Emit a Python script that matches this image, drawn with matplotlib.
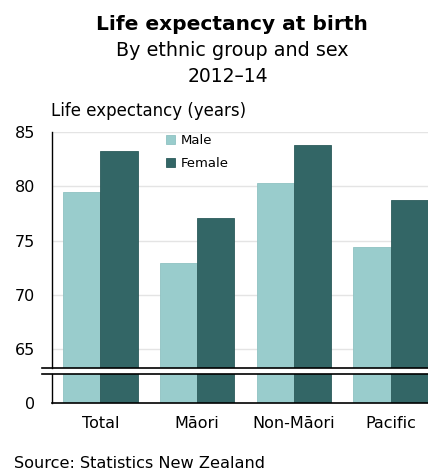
import matplotlib
matplotlib.use("Agg")
from matplotlib import pyplot as plt
from matplotlib.lines import Line2D
import numpy as np

groups = ["Total", "Māori", "Non-Māori", "Pacific"]
male = [79.5, 72.9, 80.3, 74.4]
female = [83.2, 77.1, 83.8, 78.7]
yticks_top = [65, 70, 75, 80, 85]

light = "#99cccc"
dark = "#336666"

plt.rcParams['font.family'] = ['DejaVu Sans']

W, H = 428, 473
fig = plt.figure(figsize=(W / 100, H / 100), dpi=100)

def fx(px):
    return px / W

def fy(py):
    return 1 - py / H

left, right = 52, 439
break_top, break_bot, base = 367.5, 373.7, 402.5
y85 = 131.7
px_per_year = 10.88

ax = fig.add_axes([fx(left), fy(break_top), fx(right - left), (break_top - y85) / H])
axb = fig.add_axes([fx(left), fy(base), fx(right - left), (base - break_bot) / H])

x = np.arange(len(groups))
w = 0.386
for a in (ax, axb):
    a.bar(x - w / 2, male, w, color=light, edgecolor="#8fc2c2", linewidth=0.6, label="Male", zorder=2)
    a.bar(x + w / 2, female, w, color=dark, edgecolor="#2c5b5b", linewidth=0.6, label="Female", zorder=2)
    a.set_xlim(-0.5, 3.5)
    for s in ("top", "right"):
        a.spines[s].set_visible(False)
    a.spines["left"].set_linewidth(1.0)
    a.tick_params(axis="both", length=0, labelsize=11.5, pad=12)

ax.set_ylim(85 - (break_top - y85) / px_per_year, 85)
ax.set_yticks(yticks_top)
ax.set_xticks([])
ax.spines["bottom"].set_visible(False)
ax.grid(axis="y", color="#e4e4e4", linewidth=1, zorder=0)
ax.set_axisbelow(True)

axb.set_ylim(0, (base - break_bot) / px_per_year)
axb.set_yticks([0])
axb.set_xticks(x)
axb.set_xticklabels(groups)
axb.tick_params(axis="x", pad=10)
axb.spines["bottom"].set_linewidth(1.2)

# the two lines marking the axis break
for py in (break_top, break_bot):
    fig.add_artist(Line2D([fx(42), 1], [fy(py), fy(py)], color="black", linewidth=1.2))

fig.text(fx(232), fy(25), "Life expectancy at birth", ha="center", va="center",
         fontsize=14.5, fontweight="bold")
fig.text(fx(232), fy(51), "By ethnic group and sex", ha="center", va="center", fontsize=13.8)
fig.text(fx(228), fy(76), "2012–14", ha="center", va="center", fontsize=13.5)
fig.text(fx(51), fy(111), "Life expectancy (years)", ha="left", va="center", fontsize=12)
fig.text(fx(14), fy(463), "Source: Statistics New Zealand", ha="left", va="center", fontsize=11.6)

ax.legend(loc="upper left", bbox_to_anchor=(fx(166), fy(134)), bbox_transform=fig.transFigure,
          frameon=False, fontsize=9.5, handlelength=0.65, handleheight=0.65, handletextpad=0.5,
          labelspacing=0.75, borderpad=0, borderaxespad=0)

fig.savefig("out.png", dpi=100)
